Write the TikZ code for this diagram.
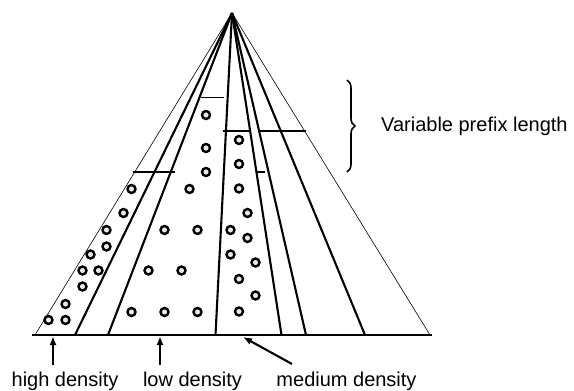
\documentclass[tikz,border=0pt]{standalone}
\usepackage{fontspec}
\setmainfont{Liberation Sans}
\usetikzlibrary{arrows.meta,decorations.pathreplacing}

\begin{document}
\begin{tikzpicture}
  [x=1pt,y=-1pt,
   every node/.style={inner sep=0pt,font=\fontsize{20}{24}\selectfont},
   dot/.style={circle,draw=black,fill=black!8,line width=2.4pt,minimum size=8pt},
   ray/.style={line width=2.1pt},
   prefixbar/.style={line width=1.9pt},
   arr/.style={line width=2.1pt,-{Latex[length=9pt,width=7pt]}}]
  \useasboundingbox (0,0) rectangle (574,391);

  \coordinate (top) at (232,13);
  \coordinate (bl) at (35,335);
  \coordinate (br) at (430,335);
  \coordinate (b1) at (75,335);
  \coordinate (b2) at (108,335);
  \coordinate (b3) at (215.5,335);
  \coordinate (b4) at (281.5,335);
  \coordinate (b5) at (306,335);
  \coordinate (b6) at (365,335);
  \coordinate (s0) at (32,335);
  \coordinate (s1) at (432,335);

  % pyramid
  \draw[line width=.6pt] (bl) -- (top) -- (br);
  \foreach \b in {b1,b2,b3,b4,b5,b6}
     \draw[ray] (top) -- (\b);
  \draw[ray] (s0) -- (s1);

  % prefix lengths
  \draw[prefixbar] (132.5,172) -- (175,172);
  \draw[prefixbar] (200.5,97.5) -- (223.5,97.5);
  \draw[prefixbar] (222.5,131) -- (250.5,131);
  \draw[prefixbar] (259,131) -- (306,131);
  \draw[prefixbar] (256.5,172) -- (265,172);

  % entries
  \foreach \x/\y [count=\i] in {131.5/189,123.5/213,106.5/230,106.5/246.5,90.5/254.5,
      82.5/270.5,98.5/270.5,82.5/286.5,65.5/304,48.5/320,65.5/320}
     \node[dot] (h\i) at (\x,\y) {};
  \foreach \x/\y [count=\i] in {206/115,206/148,206/172,189.5/189,164.5/230,197.5/230,
      148.5/270.5,181.5/270.5,131.5/312,164.5/312,197.5/312}
     \node[dot] (l\i) at (\x,\y) {};
  \foreach \x/\y [count=\i] in {239/140,239/164,239/188.5,247.5/213,230.5/230,247.5/238,
      230.5/254.5,255.5/262.5,239/279,255.5/295.5,239/311.5}
     \node[dot] (m\i) at (\x,\y) {};

  % brace
  \draw[decorate,decoration={brace,amplitude=8pt},line width=1.6pt] (347,80) -- (347,172);
  \node[anchor=base west] (vpl) at (381,131) {Variable prefix length};

  % densities
  \node[anchor=base] (hd) at (65,386) {high density};
  \node[anchor=base] (ld) at (192.5,386) {low density};
  \node[anchor=base] (md) at (346.5,386) {medium density};

  \coordinate (hdt) at (53,365);
  \coordinate (hdh) at (53,336);
  \coordinate (ldt) at (160,365);
  \coordinate (ldh) at (160,336);
  \coordinate (mdt) at (292,364);
  \coordinate (mdh) at (243,337);

  \draw[arr] (hdt) -- (hdh);
  \draw[arr] (ldt) -- (ldh);
  \draw[arr] (mdt) -- (mdh);
\end{tikzpicture}
\end{document}
